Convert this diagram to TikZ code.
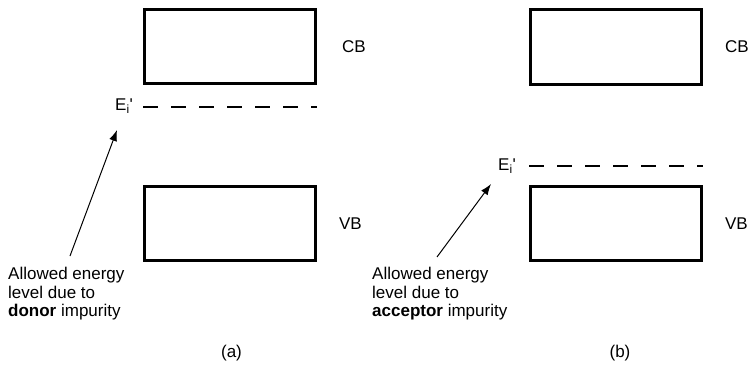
\documentclass[tikz,border=0pt]{standalone}
\usepackage{fontspec}
\setmainfont{Liberation Sans}
\usepackage{tikz}
\usetikzlibrary{positioning,arrows.meta}

\begin{document}
\begin{tikzpicture}[x=1pt, y=-1pt, >=Latex,
  every node/.style={font=\fontsize{17}{18.5}\selectfont, inner sep=0pt},
  bandbox/.style={draw, line width=2.6pt, minimum width=171pt, minimum height=74.5pt},
  levelline/.style={line width=1.2pt, dash pattern=on 15pt off 13pt},
  pointer/.style={-{Latex[length=11pt,width=8pt]}, line width=1pt}]
  \useasboundingbox (0,0) rectangle (749,366);
  % (a) donor
  \node[bandbox] (cbA) at (230,46.5) {};
  \node[bandbox] (vbA) at (230,223.5) {};
  \node[anchor=west] (cbAlab) at ([xshift=25pt]cbA.east) {CB};
  \node[anchor=west] (vbAlab) at ([xshift=22pt]vbA.east) {VB};
  \coordinate (lvAstart) at (143,107);
  \coordinate (lvAend) at (317,107);
  \draw[levelline] (lvAstart) -- (lvAend);
  \node[anchor=base west] (levA) at (115,111) {E\textsubscript{i}\textquotesingle};
  \node[anchor=north west, align=left] (noteA) at (8,267) {Allowed energy\\level due to\\\textbf{donor} impurity};
  \coordinate (tailA) at (70,256);
  \coordinate (tipA) at (117,130);
  \draw[pointer] (tailA) -- (tipA);
  \node (capA) at (231.5,353) {(a)};
  % (b) acceptor
  \node[bandbox] (cbB) at (616,47) {};
  \node[bandbox] (vbB) at (616,223.5) {};
  \node[anchor=west] (cbBlab) at ([xshift=22pt]cbB.east) {CB};
  \node[anchor=west] (vbBlab) at ([xshift=22pt]vbB.east) {VB};
  \coordinate (lvBstart) at (529,166);
  \coordinate (lvBend) at (703,166);
  \draw[levelline] (lvBstart) -- (lvBend);
  \node[anchor=base west] (levB) at (498,171) {E\textsubscript{i}\textquotesingle};
  \node[anchor=north west, align=left] (noteB) at (372,267) {Allowed energy\\level due to\\\textbf{acceptor} impurity};
  \coordinate (tailB) at (437,257);
  \coordinate (tipB) at (491,184);
  \draw[pointer] (tailB) -- (tipB);
  \node (capB) at (620,353) {(b)};
\end{tikzpicture}
\end{document}
